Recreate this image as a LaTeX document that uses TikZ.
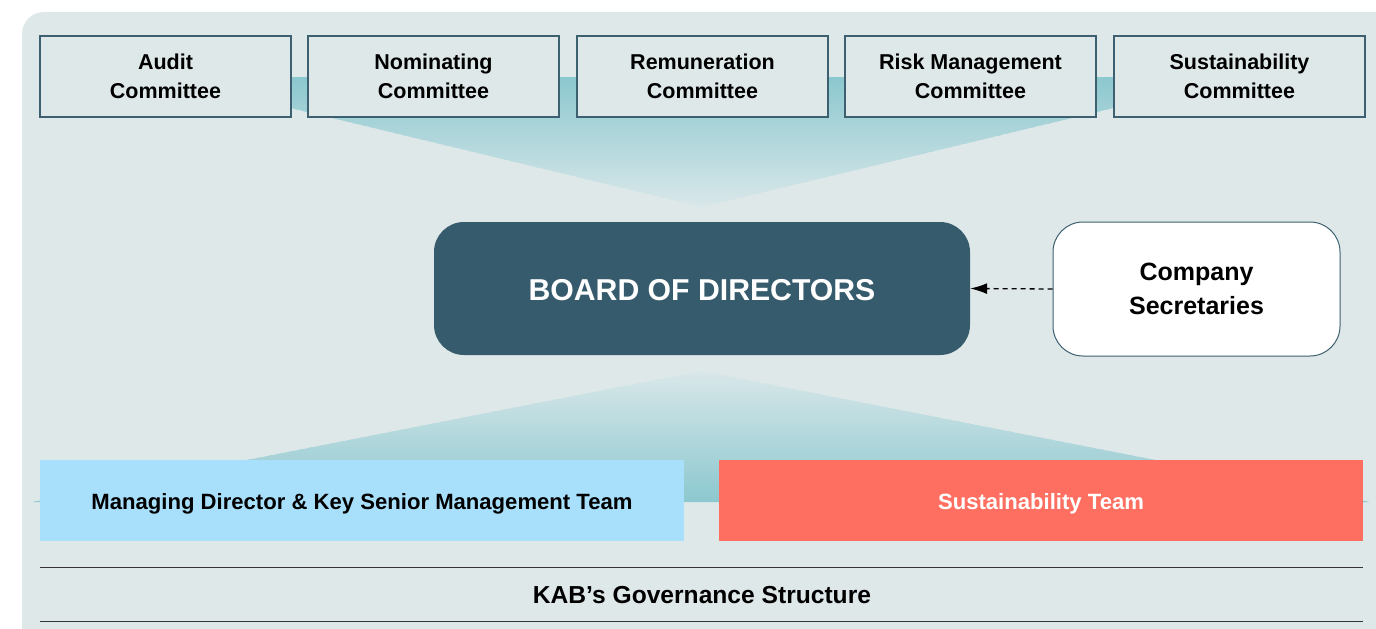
\documentclass[tikz,border=0pt]{standalone}
\usepackage{fontspec}
\setmainfont{Liberation Sans}
\usetikzlibrary{arrows.meta}
\definecolor{bgc}{HTML}{DFE8E9}
\definecolor{edgec}{HTML}{3D6070}
\definecolor{boardc}{HTML}{365B6C}
\definecolor{tealc}{HTML}{8CC8CF}
\definecolor{fadec}{HTML}{D8E7E9}
\definecolor{bluec}{HTML}{A8E0FC}
\definecolor{orangec}{HTML}{FF6F61}
\definecolor{rulec}{HTML}{333333}
\tikzset{
  committee/.style={draw=edgec, line width=2.5pt, fill=bgc, minimum width=251pt, minimum height=81pt, inner sep=0pt, align=center, font=\fontsize{21.5}{29}\selectfont\bfseries},
  board/.style={fill=boardc, rounded corners=30pt, minimum width=536pt, minimum height=133pt, inner sep=0pt, text=white, text height=24.6pt, text depth=0pt, font=\fontsize{30.2}{34}\selectfont\bfseries},
  secbox/.style={draw=edgec, line width=1pt, fill=white, rounded corners=30pt, minimum width=287pt, minimum height=134pt, inner sep=0pt, align=center, font=\fontsize{25}{34}\selectfont\bfseries},
  team/.style={minimum width=644pt, minimum height=81pt, inner sep=0pt, text height=17pt, text depth=0pt, font=\fontsize{22.1}{26}\selectfont\bfseries},
  rulel/.style={draw=rulec, line width=1pt},
}
\begin{document}
\begin{tikzpicture}[x=1pt, y=-1pt]
\useasboundingbox (0,0) rectangle (1376,629);
\clip (0,0) rectangle (1376,629);
% background panel
\fill[bgc, rounded corners=22pt] (22,12) rectangle (1400,660);
% top funnel (teal at top fading downwards)
\begin{scope}
  \clip (162,77) -- (1242,77) -- (702,207) -- cycle;
  \foreach \i in {0,...,64} {
    \pgfmathsetmacro{\p}{100-100*\i/64}
    \fill[tealc!\p!fadec] (150,77+2*\i) rectangle (1260,79.6+2*\i);
  }
\end{scope}
% bottom funnel (light at apex, teal at bottom)
\begin{scope}
  \clip (701,371) -- (1369,502) -- (33,502) -- cycle;
  \foreach \i in {0,...,65} {
    \pgfmathsetmacro{\p}{100*\i/65}
    \fill[tealc!\p!fadec] (20,371+2*\i) rectangle (1380,373.6+2*\i);
  }
\end{scope}
% committees
\node[committee] (audit) at (165.5,76.5) {Audit\\Committee};
\node[committee] (nom) at (433.5,76.5) {Nominating\\Committee};
\node[committee] (rem) at (702.5,76.5) {Remuneration\\Committee};
\node[committee] (risk) at (970.5,76.5) {Risk Management\\Committee};
\node[committee] (sus) at (1239.5,76.5) {Sustainability\\Committee};
% board
\node[board] (bod) at (702,288.5) {BOARD OF DIRECTORS};
\node[secbox] (sec) at (1196.5,289) {Company\\Secretaries};
\draw[line width=1.3pt, dash pattern=on 5pt off 4pt, -{Latex[length=17pt,width=11pt]}] (sec.west) -- (bod.east);
% teams
\node[team, fill=bluec] (mgmt) at (362,500.5) {Managing Director \& Key Senior Management Team};
\node[team, fill=orangec, text=white] (steam) at (1041,500.5) {Sustainability Team};
% caption
\coordinate (l1a) at (40,567); \coordinate (l1b) at (1363,567);
\coordinate (l2a) at (40,621); \coordinate (l2b) at (1363,621);
\draw[rulel] (l1a) -- (l1b);
\draw[rulel] (l2a) -- (l2b);
\node[font=\fontsize{24.6}{28}\selectfont\bfseries] (cap) at (702,595) {KAB’s Governance Structure};
\end{tikzpicture}
\end{document}
